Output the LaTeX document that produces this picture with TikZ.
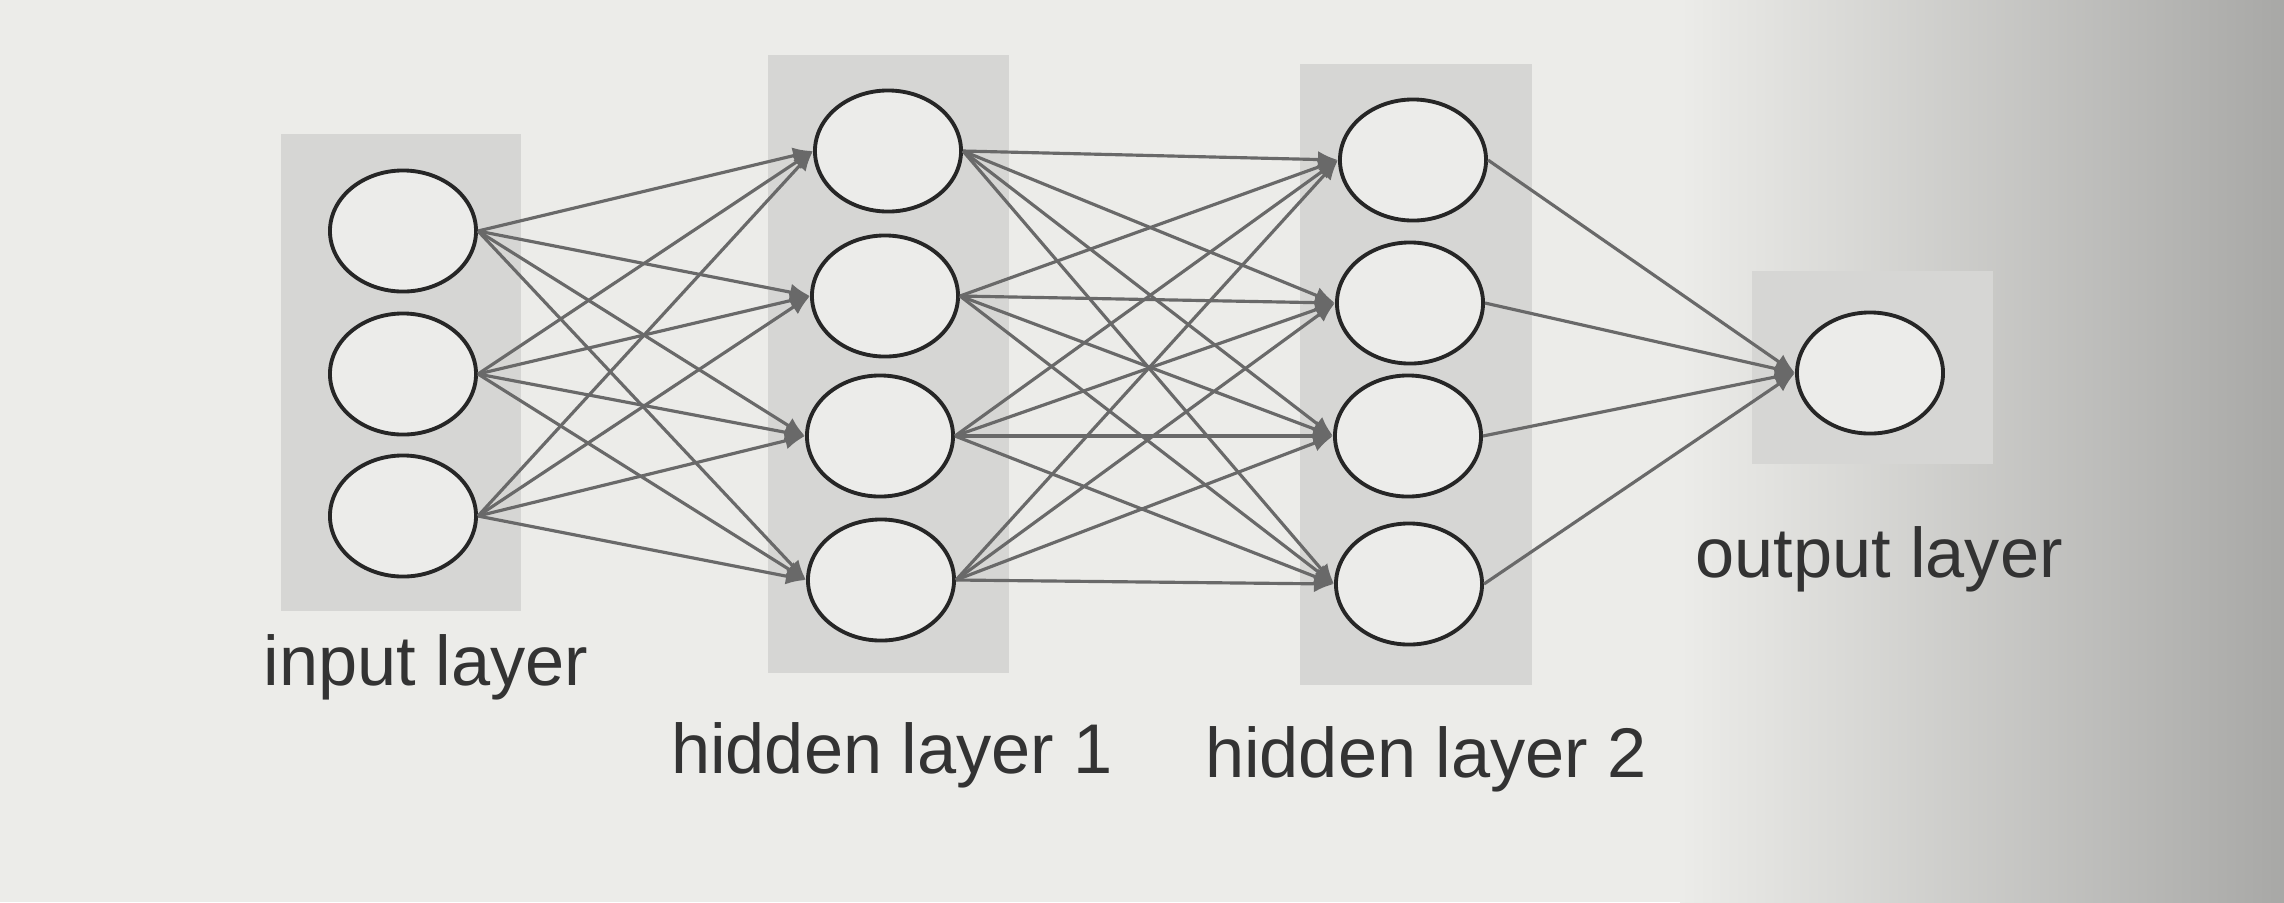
\documentclass[tikz,border=0pt]{standalone}
\usepackage{fontspec}
\setmainfont{Liberation Sans}
\usetikzlibrary{shapes.geometric,arrows.meta}
\definecolor{bgcol}{RGB}{236,236,233}
\definecolor{shadecol}{RGB}{168,168,166}
\definecolor{boxcol}{RGB}{214,214,212}
\definecolor{nodefill}{RGB}{236,236,234}
\definecolor{linecol}{RGB}{105,105,105}
\tikzset{
  neuron/.style={ellipse, draw=black!85, line width=1.1pt, fill=nodefill, minimum width=1.46cm, minimum height=1.21cm, inner sep=0pt},
  layerbox/.style={fill=boxcol, draw=none},
  conn/.style={draw=linecol, line width=0.9pt, -{Latex[length=0.2cm,width=0.17cm]}},
  lbl/.style={font=\fontsize{20}{24}\selectfont, text=black!80, inner sep=0pt}
}
\begin{document}
\begin{tikzpicture}[x=0.01cm,y=-0.01cm]
\useasboundingbox (0,0) rectangle (2284,902);
\fill[bgcol] (0,0) rectangle (2284,902);
\shade[left color=bgcol, right color=shadecol] (1680,0) rectangle (2284,902);
% layer boxes
\fill[layerbox] (281,134) rectangle (521,611);
\fill[layerbox] (768,55) rectangle (1009,673);
\fill[layerbox] (1300,64) rectangle (1532,685);
\fill[layerbox] (1752,271) rectangle (1993,464);
% neurons
\node[neuron] (i1) at (403,231) {};
\node[neuron] (i2) at (403,374) {};
\node[neuron] (i3) at (403,516) {};
\node[neuron] (h1) at (888,151) {};
\node[neuron] (h2) at (885,296) {};
\node[neuron] (h3) at (880,436) {};
\node[neuron] (h4) at (881,580) {};
\node[neuron] (g1) at (1413,160) {};
\node[neuron] (g2) at (1410,303) {};
\node[neuron] (g3) at (1408,436) {};
\node[neuron] (g4) at (1409,584) {};
\node[neuron] (o1) at (1870,373) {};
% connections
\foreach \a in {1,2,3}{\foreach \b in {1,2,3,4}{\draw[conn] (i\a.east) -- (h\b.west);}}
\foreach \a in {1,2,3,4}{\foreach \b in {1,2,3,4}{\draw[conn] (h\a.east) -- (g\b.west);}}
\foreach \a in {1,2,3,4}{\draw[conn] (g\a.east) -- (o1.west);}
% labels
\node[lbl] (l1) at (426,667) {input layer};
\node[lbl] (l2) at (892,755) {hidden layer 1};
\node[lbl] (l3) at (1426,759) {hidden layer 2};
\node[lbl] (l4) at (1879,559) {output layer};
\end{tikzpicture}
\end{document}
